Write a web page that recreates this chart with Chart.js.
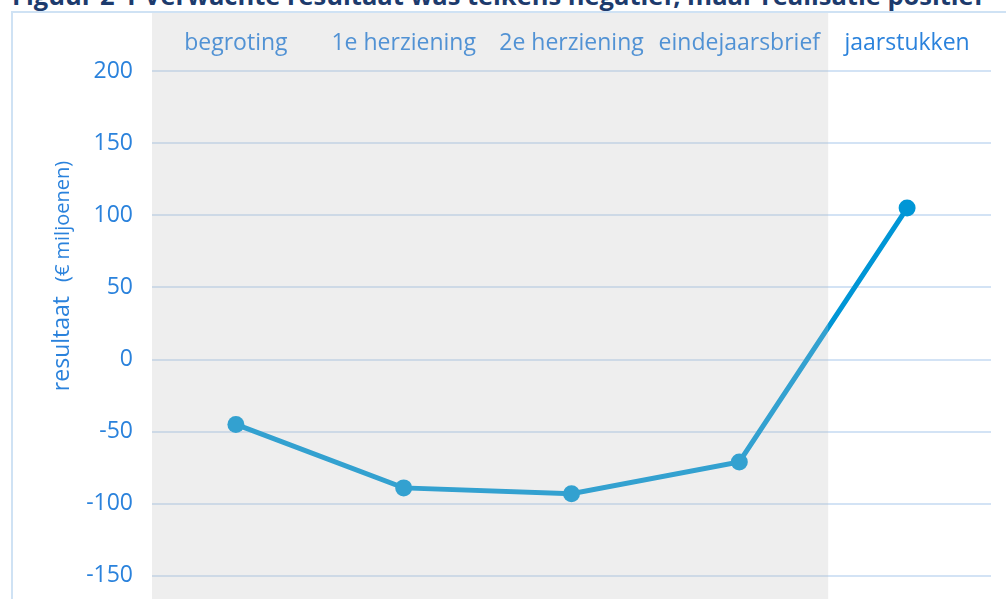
<!DOCTYPE html>
<html>
<head>
<meta charset="utf-8">
<script src="https://cdn.jsdelivr.net/npm/chart.js@4/dist/chart.umd.min.js"></script>
<style>
  html, body { margin: 0; padding: 0; background: #fff; }
  #wrap { position: relative; width: 1006px; height: 599px; overflow: hidden; }
  #title {
    position: absolute; left: 12px; top: -17px; white-space: nowrap;
    font: bold 25.5px/25.5px "Open Sans", sans-serif; color: #1d3b6d;
  }
  #frame {
    position: absolute; left: 11px; top: 11px; width: 1100px; height: 700px;
    border-left: 2px solid #cfe2f4; border-top: 2px solid #cfe2f4;
  }
  #c { position: absolute; left: 0; top: 0; }
</style>
</head>
<body>
<div id="wrap">
  <div id="title">Figuur 2-1 Verwachte resultaat was telkens negatief, maar realisatie positief</div>
  <div id="frame"></div>
  <canvas id="c" width="1006" height="660"></canvas>
</div>
<script>
const categories = ['begroting', '1e herziening', '2e herziening', 'eindejaarsbrief', 'jaarstukken'];
const resultaat = [-45, -89, -93, -71, 105];
const yMin = -200;
const yMax = 200;
const yStep = 50;

const TEXT_BLUE = '#2a82dc';
const FONT = '"Open Sans", sans-serif';

// gray "forecast" band is a translucent layer over everything up to the last category
const forecastBand = {
  id: 'forecastBand',
  afterDraw(chart) {
    const { ctx, chartArea, scales: { x } } = chart;
    const right = (x.getPixelForValue(3) + x.getPixelForValue(4)) / 2 + 5;
    ctx.save();
    ctx.fillStyle = 'rgba(191,191,191,0.267)';
    ctx.fillRect(chartArea.left, x.top, right - chartArea.left, chart.height - x.top);
    ctx.restore();
  },
};

// y title with the unit in a smaller size
const yTitle = {
  id: 'yTitle',
  afterDraw(chart) {
    const { ctx } = chart;
    const big = '23px ' + FONT;
    const small = '20px ' + FONT;
    const a = 'resultaat';
    const b = '(€ miljoenen)';
    const gap = 14;
    ctx.save();
    ctx.font = big;
    const wa = ctx.measureText(a).width;
    ctx.font = small;
    const wb = ctx.measureText(b).width;
    ctx.translate(62, 276);
    ctx.rotate(-Math.PI / 2);
    ctx.fillStyle = TEXT_BLUE;
    ctx.textBaseline = 'middle';
    const sx = -(wa + gap + wb) / 2;
    ctx.font = big;
    ctx.fillText(a, sx, 0);
    ctx.font = small;
    ctx.fillText(b, sx + wa + gap, 1);
    ctx.restore();
  },
};

new Chart(document.getElementById('c'), {
  type: 'line',
  data: {
    labels: categories,
    datasets: [{
      data: resultaat,
      borderColor: '#0096d6',
      backgroundColor: '#0096d6',
      borderWidth: 5,
      pointRadius: 8.5,
      pointBorderWidth: 0,
      pointBackgroundColor: '#0096d6',
      tension: 0,
    }],
  },
  options: {
    responsive: false,
    animation: false,
    layout: { padding: { left: 12, right: 15, top: 13, bottom: 12 } },
    plugins: { legend: { display: false }, tooltip: { enabled: false } },
    scales: {
      x: {
        position: 'top',
        offset: true,
        grid: { display: false, drawTicks: false },
        border: { display: false },
        ticks: { color: TEXT_BLUE, font: { family: FONT, size: 23 }, padding: 14, maxRotation: 0, autoSkip: false },
        afterFit: (s) => { s.height = 58; s.paddingLeft = 0; s.paddingRight = 0; },
      },
      y: {
        min: yMin,
        max: yMax,
        grid: { color: '#d3e3f5', lineWidth: 2, drawTicks: false },
        border: { display: false },
        ticks: { stepSize: yStep, color: TEXT_BLUE, font: { family: FONT, size: 23 }, padding: 19 },
        afterFit: (s) => { s.width = 140; s.paddingTop = 0; s.paddingBottom = 0; },
      },
    },
  },
  plugins: [forecastBand, yTitle],
});
</script>
</body>
</html>
